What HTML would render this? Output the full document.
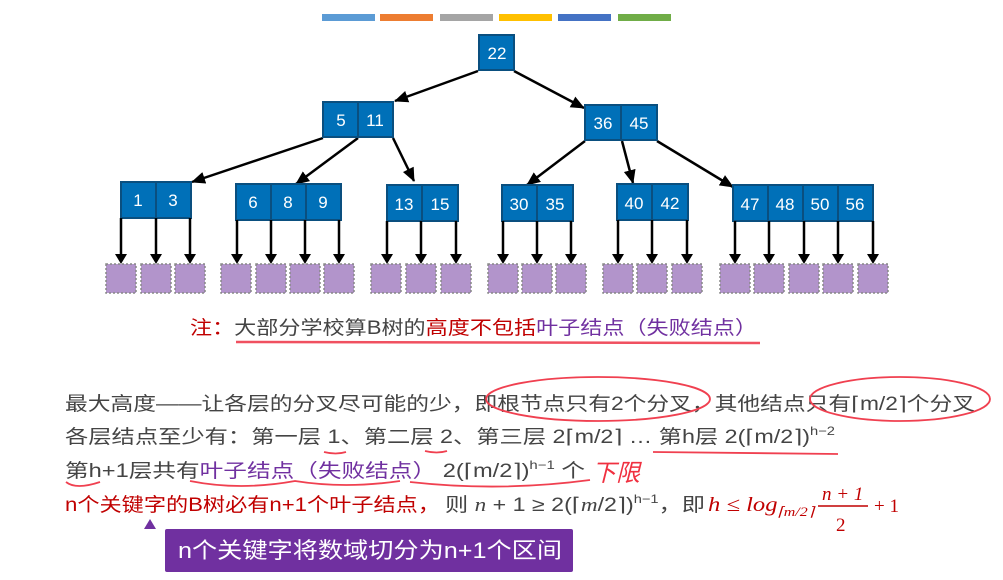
<!DOCTYPE html>
<html><head><meta charset="utf-8"><style>
html,body{margin:0;padding:0;background:#fff;width:1003px;height:580px;overflow:hidden}
svg{display:block}
text{font-family:"Liberation Sans","Noto Sans CJK SC",sans-serif}
.k{fill:#fff;font-size:17px;text-anchor:middle}
.b{fill:#0070b8;stroke:#0a4f7f;stroke-width:2}
.l{fill:#b294cb;stroke:#888;stroke-width:1.5;stroke-dasharray:2 2}
.s{font-family:"Liberation Serif",serif}
</style></head><body>
<svg width="1003" height="580" viewBox="0 0 1003 580">
<defs>
<marker id="d" markerWidth="14" markerHeight="14" refX="13" refY="7" orient="auto" markerUnits="userSpaceOnUse"><path d="M0,1 L14,7 L0,13z" fill="#000"/></marker></defs>
<g>
<rect x="322" y="14" width="53" height="7" fill="#5b9bd5"/>
<rect x="380" y="14" width="53" height="7" fill="#ed7d31"/>
<rect x="440" y="14" width="53" height="7" fill="#a5a5a5"/>
<rect x="499" y="14" width="53" height="7" fill="#ffc000"/>
<rect x="558" y="14" width="53" height="7" fill="#4472c4"/>
<rect x="618" y="14" width="53" height="7" fill="#70ad47"/>
</g>
<g stroke="#000" stroke-width="2.5" fill="none">
<line x1="478" y1="71" x2="395" y2="101" marker-end="url(#d)"/>
<line x1="514" y1="71" x2="584" y2="108" marker-end="url(#d)"/>
<line x1="323" y1="138" x2="192" y2="182" marker-end="url(#d)"/>
<line x1="358" y1="138" x2="296" y2="184" marker-end="url(#d)"/>
<line x1="393" y1="138" x2="414" y2="181" marker-end="url(#d)"/>
<line x1="585" y1="141" x2="527" y2="185" marker-end="url(#d)"/>
<line x1="622" y1="141" x2="633" y2="183" marker-end="url(#d)"/>
<line x1="657" y1="141" x2="733" y2="187" marker-end="url(#d)"/>
</g>
<rect class="b" x="479" y="35" width="35" height="35"/><text class="k" x="497" y="59">22</text>
<rect class="b" x="323" y="102" width="70" height="35"/><line x1="358" y1="102" x2="358" y2="137" stroke="#0a4f7f" stroke-width="2"/>
<text class="k" x="341" y="126">5</text><text class="k" x="375" y="126">11</text>
<rect class="b" x="585" y="105" width="72" height="35"/><line x1="621" y1="105" x2="621" y2="140" stroke="#0a4f7f" stroke-width="2"/>
<text class="k" x="603" y="129">36</text><text class="k" x="639" y="129">45</text>
<rect class="b" x="121" y="182" width="70" height="36"/><line x1="156" y1="182" x2="156" y2="218" stroke="#0a4f7f" stroke-width="2"/>
<text class="k" x="138" y="206">1</text><text class="k" x="173" y="206">3</text>
<rect class="b" x="236" y="184" width="105" height="36"/><line x1="271" y1="184" x2="271" y2="220" stroke="#0a4f7f" stroke-width="2"/><line x1="306" y1="184" x2="306" y2="220" stroke="#0a4f7f" stroke-width="2"/>
<text class="k" x="253" y="208">6</text><text class="k" x="288" y="208">8</text><text class="k" x="323" y="208">9</text>
<rect class="b" x="387" y="185" width="71" height="36"/><line x1="422" y1="185" x2="422" y2="221" stroke="#0a4f7f" stroke-width="2"/>
<text class="k" x="404" y="210">13</text><text class="k" x="440" y="210">15</text>
<rect class="b" x="502" y="185" width="71" height="36"/><line x1="537" y1="185" x2="537" y2="221" stroke="#0a4f7f" stroke-width="2"/>
<text class="k" x="519" y="210">30</text><text class="k" x="555" y="210">35</text>
<rect class="b" x="617" y="184" width="71" height="36"/><line x1="652" y1="184" x2="652" y2="220" stroke="#0a4f7f" stroke-width="2"/>
<text class="k" x="634" y="209">40</text><text class="k" x="670" y="209">42</text>
<rect class="b" x="733" y="185" width="140" height="36"/><line x1="768" y1="185" x2="768" y2="221" stroke="#0a4f7f" stroke-width="2"/><line x1="803" y1="185" x2="803" y2="221" stroke="#0a4f7f" stroke-width="2"/><line x1="838" y1="185" x2="838" y2="221" stroke="#0a4f7f" stroke-width="2"/>
<text class="k" x="750" y="210">47</text><text class="k" x="785" y="210">48</text><text class="k" x="820" y="210">50</text><text class="k" x="855" y="210">56</text>
<g stroke="#000" stroke-width="2.5">
<line x1="121" y1="218" x2="121" y2="256"/><line x1="156" y1="218" x2="156" y2="256"/><line x1="190" y1="218" x2="190" y2="256"/>
<line x1="237" y1="220" x2="237" y2="256"/><line x1="271" y1="220" x2="271" y2="256"/><line x1="305" y1="220" x2="305" y2="256"/><line x1="339" y1="220" x2="339" y2="256"/>
<line x1="387" y1="221" x2="387" y2="256"/><line x1="421" y1="221" x2="421" y2="256"/><line x1="456" y1="221" x2="456" y2="256"/>
<line x1="503" y1="221" x2="503" y2="256"/><line x1="537" y1="221" x2="537" y2="256"/><line x1="571" y1="221" x2="571" y2="256"/>
<line x1="618" y1="220" x2="618" y2="256"/><line x1="652" y1="220" x2="652" y2="256"/><line x1="687" y1="220" x2="687" y2="256"/>
<line x1="735" y1="221" x2="735" y2="256"/><line x1="769" y1="221" x2="769" y2="256"/><line x1="804" y1="221" x2="804" y2="256"/><line x1="838" y1="221" x2="838" y2="256"/><line x1="873" y1="221" x2="873" y2="256"/>
</g>
<path fill="#000" d="M115,254h12l-6,10z M150,254h12l-6,10z M184,254h12l-6,10z M231,254h12l-6,10z M265,254h12l-6,10z M299,254h12l-6,10z M333,254h12l-6,10z M381,254h12l-6,10z M415,254h12l-6,10z M450,254h12l-6,10z M497,254h12l-6,10z M531,254h12l-6,10z M565,254h12l-6,10z M612,254h12l-6,10z M646,254h12l-6,10z M681,254h12l-6,10z M729,254h12l-6,10z M763,254h12l-6,10z M798,254h12l-6,10z M832,254h12l-6,10z M867,254h12l-6,10z"/>
<g>
<rect class="l" x="106" y="264" width="30" height="29"/><rect class="l" x="141" y="264" width="30" height="29"/><rect class="l" x="175" y="264" width="30" height="29"/>
<rect class="l" x="221" y="264" width="30" height="29"/><rect class="l" x="256" y="264" width="30" height="29"/><rect class="l" x="290" y="264" width="30" height="29"/><rect class="l" x="324" y="264" width="30" height="29"/>
<rect class="l" x="371" y="264" width="30" height="29"/><rect class="l" x="406" y="264" width="30" height="29"/><rect class="l" x="441" y="264" width="30" height="29"/>
<rect class="l" x="488" y="264" width="30" height="29"/><rect class="l" x="522" y="264" width="30" height="29"/><rect class="l" x="556" y="264" width="30" height="29"/>
<rect class="l" x="603" y="264" width="30" height="29"/><rect class="l" x="637" y="264" width="30" height="29"/><rect class="l" x="672" y="264" width="30" height="29"/>
<rect class="l" x="720" y="264" width="30" height="29"/><rect class="l" x="754" y="264" width="30" height="29"/><rect class="l" x="789" y="264" width="30" height="29"/><rect class="l" x="823" y="264" width="30" height="29"/><rect class="l" x="858" y="264" width="30" height="29"/>
</g>
<text x="190" y="334" font-size="19" textLength="567" lengthAdjust="spacingAndGlyphs"><tspan fill="#c00000">注：</tspan><tspan fill="#444">大部分学校算B树的</tspan><tspan fill="#c00000">高度不包括</tspan><tspan fill="#7030a0">叶子结点（失败结点）</tspan></text>
<line x1="236" y1="342" x2="760" y2="343" stroke="#f05060" stroke-width="2.5"/>
<text x="65" y="410" font-size="19" fill="#444" textLength="910" lengthAdjust="spacingAndGlyphs">最大高度——让各层的分叉尽可能的少，即根节点只有2个分叉，其他结点只有⌈m/2⌉个分叉</text>
<text x="65" y="443" font-size="19" fill="#444" textLength="770" lengthAdjust="spacingAndGlyphs">各层结点至少有：第一层 1、第二层 2、第三层 2⌈m/2⌉ … 第h层 2(⌈m/2⌉)<tspan font-size="12" dy="-8">h−2</tspan></text>
<text x="65" y="477" font-size="19" fill="#444" textLength="520" lengthAdjust="spacingAndGlyphs">第h+1层共有<tspan fill="#7030a0">叶子结点（失败结点）</tspan> 2(⌈m/2⌉)<tspan font-size="12" dy="-8">h−1</tspan><tspan dy="8"> 个</tspan></text>
<text x="592" y="481" font-size="24" fill="#f03040" font-style="italic">下限</text>
<text x="65" y="511" font-size="19" fill="#c00000" textLength="375" lengthAdjust="spacingAndGlyphs">n个关键字的B树必有n+1个叶子结点，</text>
<text x="445" y="511" font-size="19" fill="#444" textLength="260" lengthAdjust="spacingAndGlyphs">则 <tspan class="s" font-style="italic">n</tspan> + 1 ≥ 2(⌈<tspan class="s" font-style="italic">m</tspan>/2⌉)<tspan font-size="12" dy="-8">h−1</tspan><tspan dy="8">，即</tspan></text>
<text x="708" y="511" font-size="20" fill="#c00000" class="s" font-style="italic" textLength="106" lengthAdjust="spacingAndGlyphs">h ≤ log<tspan font-size="13" dy="5">⌈m/2⌉</tspan></text>
<text x="822" y="500" font-size="19" fill="#c00000" class="s" font-style="italic">n + 1</text>
<line x1="818" y1="506" x2="868" y2="506" stroke="#c00000" stroke-width="1.5"/>
<text x="836" y="531" font-size="19" fill="#c00000" class="s">2</text>
<text x="874" y="512" font-size="19" fill="#c00000" class="s">+ 1</text>
<g fill="none" stroke="#f04050" stroke-width="1.8">
<ellipse cx="598" cy="399" rx="112" ry="22"/>
<ellipse cx="900" cy="399" rx="90" ry="22"/>
<path d="M324,452 q12,3 22,0 M425,451 q12,3 22,0"/>
<path d="M653,452 L838,454"/>
<path d="M66,482 q10,8 34,0 M190,481 q50,10 105,0 q50,8 105,0 M410,482 q90,10 180,-2"/>
</g>
<path d="M144,529 L150,519 L156,529Z" fill="#7030a0"/>
<rect x="165" y="529" width="408" height="43" rx="2" fill="#7030a0"/>
<text x="178" y="558" font-size="22" fill="#fff" textLength="384" lengthAdjust="spacingAndGlyphs">n个关键字将数域切分为n+1个区间</text>
</svg>
</body></html>
